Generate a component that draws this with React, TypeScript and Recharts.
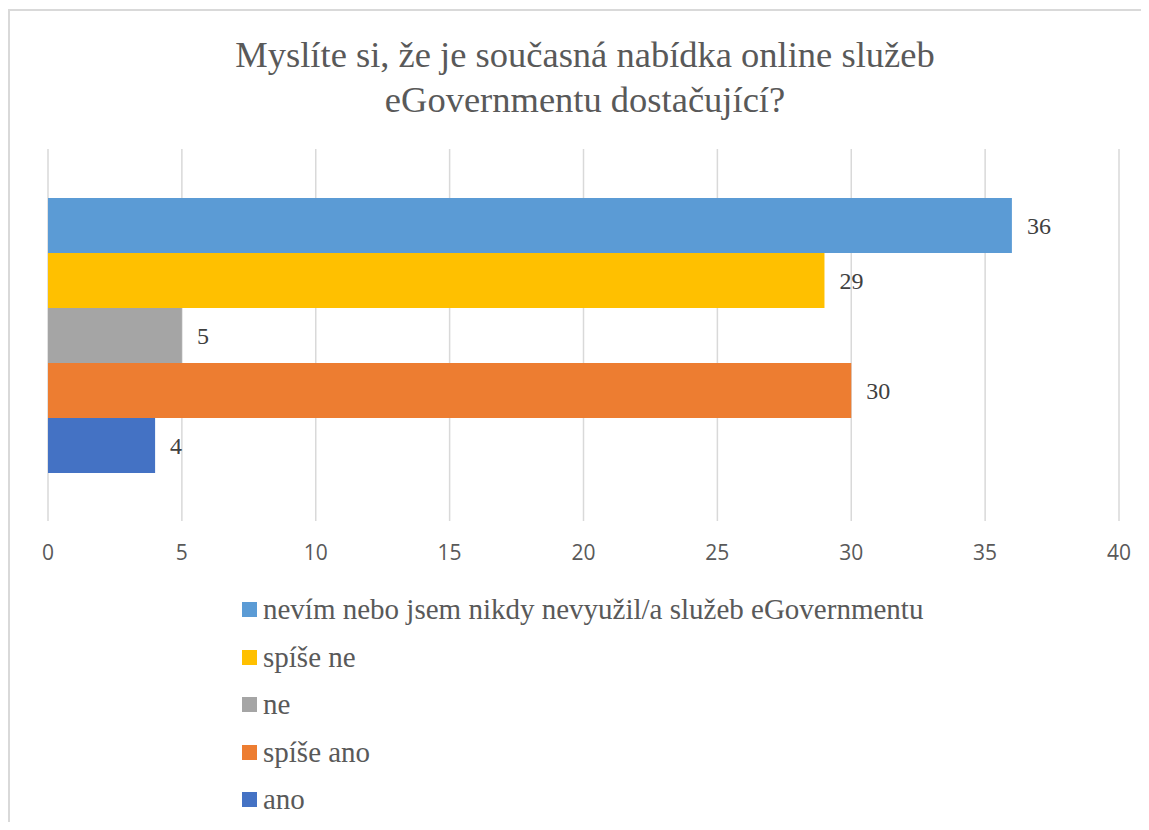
import React from 'react';
import { BarChart, Bar, XAxis, YAxis, CartesianGrid, Legend, LabelList } from 'recharts';

const titleLines = ['Myslíte si, že je současná nabídka online služeb', 'eGovernmentu dostačující?'];
const categories = ['Odpovědi'];
const seriesKeys = ['s0', 's1', 's2', 's3', 's4'];
const seriesNames = [
  'nevím nebo jsem nikdy nevyužil/a služeb eGovernmentu',
  'spíše ne',
  'ne',
  'spíše ano',
  'ano',
];
const seriesValues = [36, 29, 5, 30, 4];
const seriesColors = ['#5B9BD5', '#FFC000', '#A5A5A5', '#ED7D31', '#4472C4'];
const xTicks = [0, 5, 10, 15, 20, 25, 30, 35, 40];

const data = categories.map((c) => {
  const row: Record<string, any> = { category: c };
  seriesKeys.forEach((k, i) => {
    row[k] = seriesValues[i];
  });
  return row;
});

const serif = "'Liberation Serif', 'Times New Roman', 'DejaVu Serif', 'Noto Serif', serif";
const sans = "'Open Sans', 'Noto Sans', sans-serif";

const renderLegend = () => {
  return (
    <div style={{ fontFamily: serif, fontSize: 29, color: '#595959' }}>
      {seriesNames.map((name, i) => (
        <div key={i} style={{ display: 'flex', alignItems: 'center', height: 47.5, whiteSpace: 'nowrap' }}>
          <span style={{ display: 'inline-block', width: 15, height: 15, background: seriesColors[i], marginRight: 6 }} />
          <span style={{ lineHeight: '47.5px' }}>{name}</span>
        </div>
      ))}
    </div>
  );
};

export default function App() {
  return (
    <div style={{ position: 'relative', width: 1133, height: 814, overflow: 'hidden', background: '#fff' }}>
      <div
        style={{
          position: 'absolute',
          left: 0,
          top: 1,
          width: 1300,
          height: 1000,
          border: '2px solid #d9d9d9',
          boxSizing: 'border-box',
        }}
      />
      <div
        style={{
          position: 'absolute',
          left: 0,
          top: 24,
          width: 1154,
          textAlign: 'center',
          fontFamily: serif,
          fontSize: 36.5,
          lineHeight: '45px',
          color: '#595959',
        }}
      >
        {titleLines.map((l, i) => (
          <div key={i}>{l}</div>
        ))}
      </div>
      <div style={{ position: 'absolute', left: 0, top: 0 }}>
        <BarChart
          width={1133}
          height={814}
          data={data}
          layout="vertical"
          margin={{ top: 141, right: 22, left: 40, bottom: 261 }}
          barGap={0}
        >
          <CartesianGrid horizontal={false} vertical={true} stroke="#d9d9d9" strokeWidth={1.5} />
          <XAxis
            type="number"
            domain={[0, 40]}
            ticks={xTicks}
            axisLine={false}
            tickLine={false}
            tickMargin={18}
            height={40}
            tick={{ fill: '#595959', fontSize: 21, fontFamily: sans }}
            interval={0}
          />
          <YAxis type="category" dataKey="category" hide />
          <Legend
            layout="vertical"
            align="center"
            verticalAlign="middle"
            content={renderLegend}
            wrapperStyle={{ top: 578, left: 234, width: 'auto' }}
          />
          {seriesKeys.map((k, i) => (
            <Bar
              key={k}
              dataKey={k}
              name={seriesNames[i]}
              fill={seriesColors[i]}
              barSize={55}
              isAnimationActive={false}
            >
              <LabelList
                dataKey={k}
                position="right"
                offset={15}
                fill="#404040"
                fontSize={24}
                fontFamily={serif}
              />
            </Bar>
          ))}
        </BarChart>
      </div>
    </div>
  );
}
